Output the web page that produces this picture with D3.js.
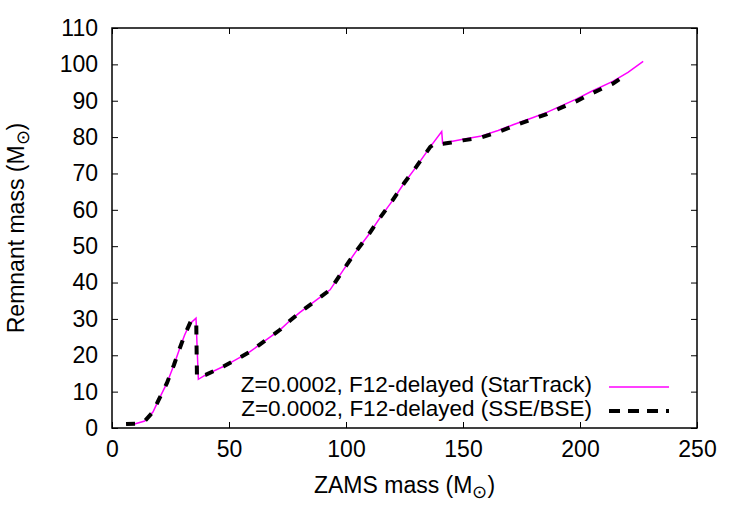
<!DOCTYPE html>
<html>
<head>
<meta charset="utf-8">
<script src="https://cdn.jsdelivr.net/npm/d3@7"></script>
<style>
  body { margin: 0; background: #fff; }
  svg { display: block; font-family: "Liberation Sans", Arial, sans-serif; }
</style>
</head>
<body>
<svg id="chart"></svg>
<script>
// 读图得到的数据点
const massStarTrack = [6, 10, 14, 17.5, 20, 23.5, 26.5, 29, 31, 33.2, 35.9, 36.9, 40, 47.6, 53, 59, 65, 71.8, 76, 80.3, 87, 93.2,
    98.9, 104, 109.5, 114.5, 119.5, 124.8, 130, 136, 140.9, 141.3, 145, 150, 157.3, 165, 171.4, 180, 185.8, 192, 198.6, 205, 214, 220.5, 227];
const remnantStarTrack = [1.1, 1.2, 1.9, 4.4, 7.8, 12.4, 17.4, 22, 25.5, 28.6, 30.2, 13.4, 14.6, 16.9, 18.8, 21, 23.8, 27, 29.5, 31.8, 35, 38,
    43.5, 48.3, 53, 57.8, 62.2, 67.3, 71.8, 77.3, 81.5, 78.3, 78.8, 79.4, 80.2, 81.8, 83.4, 85.4, 86.8, 88.6, 90.5, 92.6, 95.3, 97.8, 100.8];

const massSSE = [6, 10, 14, 17.5, 20, 23.5, 26.5, 29, 31, 33.8, 36.0, 36.3, 40, 47.6, 53, 59, 65, 71.8, 76, 80.3, 87, 93.2,
    98.9, 104, 109.5, 114.5, 119.5, 124.8, 130, 136, 138, 141.5, 145, 150, 157.3, 165, 171.4, 180, 185.8, 192, 198.6, 205, 214, 220.5];
const remnantSSE = [1.1, 1.2, 1.9, 4.4, 7.8, 12.4, 17.4, 22, 25.5, 29.5, 29.4, 14, 14.6, 16.9, 18.8, 21, 23.8, 27, 29.5, 31.8, 35, 38,
    43.5, 48.3, 53, 57.8, 62.2, 67.3, 71.8, 77.3, 78.2, 78.2, 78.5, 79.1, 79.8, 81.4, 83, 85, 86.3, 88.1, 89.9, 92, 94.7, 97.4];

const xTicks = [0, 50, 100, 150, 200, 250];
const yTicks = [0, 10, 20, 30, 40, 50, 60, 70, 80, 90, 100, 110];
const legendLabels = ["Z=0.0002, F12-delayed (StarTrack)", "Z=0.0002, F12-delayed (SSE/BSE)"];

const width = 750;
const height = 525;
const marginTop = 28;
const marginRight = 53;
const marginBottom = 97;
const marginLeft = 112;
const tickLen = 6;
const fontSize = 23;

const svg = d3.select("#chart")
    .attr("width", width)
    .attr("height", height)
    .attr("viewBox", [0, 0, width, height]);

const x = d3.scaleLinear()
    .domain([0, 250])
    .range([marginLeft, width - marginRight]);

const y = d3.scaleLinear()
    .domain([0, 110])
    .range([height - marginBottom, marginTop]);

// 四周的刻度（gnuplot 风格，向内）
svg.append("g")
    .attr("transform", `translate(0,${height - marginBottom})`)
    .call(d3.axisBottom(x).tickValues(xTicks).tickSize(-tickLen).tickPadding(13))
    .call(g => g.select(".domain").remove())
    .call(g => g.selectAll(".tick text").attr("font-size", fontSize).attr("font-family", "Liberation Sans, Arial, sans-serif").attr("fill", "#000"));

svg.append("g")
    .attr("transform", `translate(0,${marginTop})`)
    .call(d3.axisTop(x).tickValues(xTicks).tickSize(-tickLen).tickFormat(""))
    .call(g => g.select(".domain").remove());

svg.append("g")
    .attr("transform", `translate(${marginLeft},0)`)
    .call(d3.axisLeft(y).tickValues(yTicks).tickSize(-tickLen).tickPadding(14))
    .call(g => g.select(".domain").remove())
    .call(g => g.selectAll(".tick text").attr("font-size", fontSize).attr("font-family", "Liberation Sans, Arial, sans-serif").attr("fill", "#000"));

svg.append("g")
    .attr("transform", `translate(${width - marginRight},0)`)
    .call(d3.axisRight(y).tickValues(yTicks).tickSize(-tickLen).tickFormat(""))
    .call(g => g.select(".domain").remove());

// 边框
svg.append("rect")
    .attr("x", marginLeft)
    .attr("y", marginTop)
    .attr("width", width - marginLeft - marginRight)
    .attr("height", height - marginTop - marginBottom)
    .attr("fill", "none")
    .attr("stroke", "#000")
    .attr("stroke-width", 1.5);

// 曲线
const line = d3.line()
    .x(d => x(d[0]))
    .y(d => y(d[1]));

svg.append("path")
    .datum(d3.zip(massStarTrack, remnantStarTrack))
    .attr("fill", "none")
    .attr("stroke", "#ff00ff")
    .attr("stroke-width", 1.5)
    .attr("stroke-linejoin", "miter")
    .attr("d", line);

svg.append("path")
    .datum(d3.zip(massSSE, remnantSSE))
    .attr("fill", "none")
    .attr("stroke", "#000")
    .attr("stroke-width", 4)
    .attr("stroke-dasharray", "9,11")
    .attr("d", line);

// 图例
const legendRight = 592;
const legendY = [386, 410];
const legendStyles = [
    { stroke: "#ff00ff", width: 1.5, dash: null },
    { stroke: "#000", width: 4, dash: "11,8" }
];
legendLabels.forEach((label, i) => {
    svg.append("text")
        .attr("x", legendRight)
        .attr("y", legendY[i])
        .attr("text-anchor", "end")
        .attr("dominant-baseline", "middle")
        .attr("font-size", 22.5)
        .attr("fill", "#000")
        .text(label);
    svg.append("line")
        .attr("x1", 609)
        .attr("x2", 669)
        .attr("y1", legendY[i] + 1)
        .attr("y2", legendY[i] + 1)
        .attr("stroke", legendStyles[i].stroke)
        .attr("stroke-width", legendStyles[i].width)
        .attr("stroke-dasharray", legendStyles[i].dash);
});

// 坐标轴标题
const xTitle = svg.append("text")
    .attr("x", (marginLeft + width - marginRight) / 2)
    .attr("y", 493)
    .attr("text-anchor", "middle")
    .attr("font-size", fontSize)
    .attr("fill", "#000");
xTitle.append("tspan").text("ZAMS mass (M");
xTitle.append("tspan").attr("font-size", 18).attr("dy", 5).text("⊙");
xTitle.append("tspan").attr("dy", -5).text(")");

const yTitle = svg.append("text")
    .attr("transform", `translate(24,${(marginTop + height - marginBottom) / 2}) rotate(-90)`)
    .attr("text-anchor", "middle")
    .attr("font-size", fontSize)
    .attr("fill", "#000");
yTitle.append("tspan").text("Remnant mass (M");
yTitle.append("tspan").attr("font-size", 18).attr("dy", 5).text("⊙");
yTitle.append("tspan").attr("dy", -5).text(")");
</script>
</body>
</html>
